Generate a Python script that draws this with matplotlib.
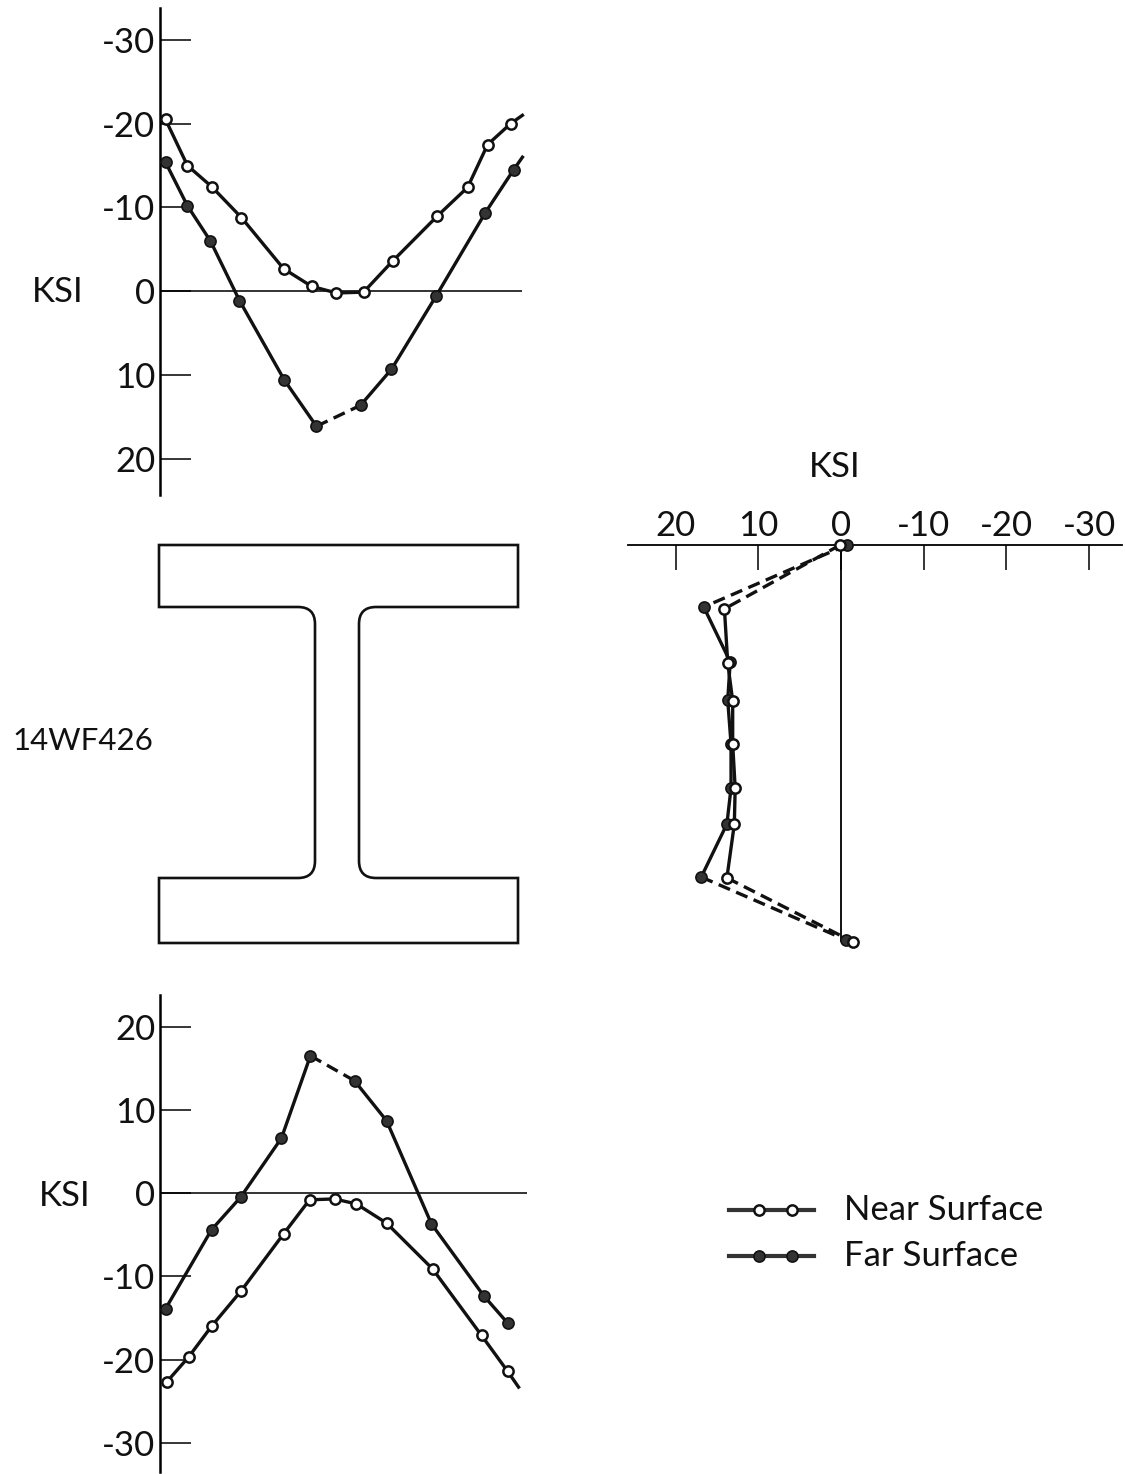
import matplotlib
matplotlib.use("Agg")
import matplotlib.pyplot as plt
from matplotlib.lines import Line2D
from matplotlib.path import Path
from matplotlib.patches import PathPatch
from matplotlib.legend_handler import HandlerBase

W, H = 1125, 1474
plt.rcParams['font.family'] = ['Lato', 'DejaVu Sans']
plt.rcParams['axes.unicode_minus'] = False

# top flange: position across flange (in), stress (ksi)
top_near_x = [0.28, 1.30, 2.42, 3.81, 5.77, 7.07, 8.23, 9.49, 10.84, 12.93, 14.33, 15.26, 16.33, 16.88]
top_near_v = [-20.5, -15.0, -12.5, -8.8, -2.7, -0.6, 0.2, 0.1, -3.6, -9.0, -12.4, -17.5, -20.0, -21.0]
top_far_x = [0.28, 1.30, 2.37, 3.72, 5.81, 7.30, 9.35, 10.79, 12.88, 15.16, 16.47, 16.88]
top_far_v = [-15.4, -10.2, -6.0, 1.1, 10.6, 16.1, 13.6, 9.3, 0.5, -9.4, -14.5, -16.0]

# bottom flange
bot_near_x = [0.33, 1.35, 2.42, 3.81, 5.77, 6.98, 8.14, 9.16, 10.56, 12.70, 14.98, 16.19, 16.70]
bot_near_v = [-22.7, -19.7, -16.0, -11.7, -4.9, -0.8, -0.7, -1.3, -3.6, -9.1, -17.1, -21.4, -23.3]
bot_far_x = [0.28, 2.42, 3.77, 5.67, 7.02, 9.07, 10.56, 12.65, 15.07, 16.19]
bot_far_v = [-13.9, -4.4, -0.5, 6.6, 16.5, 13.5, 8.7, -3.7, -12.3, -15.6]

# web: depth (in), stress (ksi)
web_near_d = [0, 3.00, 5.54, 7.32, 9.34, 11.41, 13.10, 15.63, 18.64]
web_near_v = [0.1, 14.1, 13.7, 13.1, 13.1, 12.8, 12.9, 13.8, -1.5]
web_far_d = [0, 2.91, 5.49, 7.28, 9.34, 11.41, 13.10, 15.59, 18.54]
web_far_v = [-0.7, 16.6, 13.4, 13.7, 13.3, 13.3, 13.8, 16.9, -0.6]

top_ticks = [-30, -20, -10, 0, 10, 20]
bot_ticks = [20, 10, 0, -10, -20, -30]
web_ticks = [20, 10, 0, -10, -20, -30]

LW = 2.4
DASH = (0, (3.7, 2.0))
NEAR = dict(color='#111111', lw=LW, marker='o', ms=7.4, mfc='white', mec='#111111', mew=1.8, clip_on=False)
FAR = dict(color='#111111', lw=LW, marker='o', ms=8, mfc='#333333', mec='#111111', mew=1.2, clip_on=False)
TICKFS = 25
MARK_KEYS = ('marker', 'ms', 'mfc', 'mec', 'mew')


def pax(fig, l, t, r, b):
    return fig.add_axes([l / W, 1 - b / H, (r - l) / W, (b - t) / H])


def draw(ax, x, y, style, dash=None, nomark_last=False):
    """Solid polyline with an optional dashed segment starting at index dash."""
    n = len(x)
    last = n - 1 if nomark_last else n
    plain = {k: v for k, v in style.items() if k not in MARK_KEYS}
    if dash is None:
        ax.plot(x, y, zorder=3, **plain)
    else:
        ax.plot(x[:dash + 1], y[:dash + 1], zorder=3, **plain)
        ax.plot(x[dash + 1:], y[dash + 1:], zorder=3, **plain)
        ax.plot(x[dash:dash + 2], y[dash:dash + 2], zorder=3, ls=DASH, **plain)
    ax.plot(x[:last], y[:last], ls='none', zorder=4,
            **{k: v for k, v in style.items() if k != 'lw'})


def flange_axes(fig, t, b, right, ylim, ticks):
    ax = pax(fig, 159.5, t, right, b)
    ax.set_xlim(0, (right - 159.5) / 21.5)
    ax.set_ylim(*ylim)
    for s in ('top', 'right', 'bottom'):
        ax.spines[s].set_visible(False)
    ax.spines['left'].set_linewidth(1.8)
    ax.set_xticks([])
    ax.set_yticks(ticks)
    ax.set_yticklabels([str(v) for v in ticks], fontsize=TICKFS, color='#111111')
    ax.tick_params(axis='y', direction='in', length=22, width=1.1, pad=3)
    ax.axhline(0, color='#111111', lw=1.2, zorder=1)
    ax.patch.set_alpha(0)
    return ax


fig = plt.figure(figsize=(W / 100, H / 100), dpi=100, facecolor='white')

# top panel
a1 = flange_axes(fig, 8, 495, 522, (24.3, -33.8), top_ticks)
draw(a1, top_near_x, top_near_v, NEAR, nomark_last=True)
draw(a1, top_far_x, top_far_v, FAR, dash=5, nomark_last=True)

# bottom panel
a2 = flange_axes(fig, 995, 1472, 527, (-33.5, 23.8), bot_ticks)
draw(a2, bot_near_x, bot_near_v, NEAR, nomark_last=True)
draw(a2, bot_far_x, bot_far_v, FAR, dash=4)

# web panel
a3 = pax(fig, 628, 545, 1122, 965)
a3.set_xlim(25.76, -33.98)
a3.set_ylim(19.72, 0)
for s in ('left', 'right', 'bottom'):
    a3.spines[s].set_visible(False)
a3.spines['top'].set_linewidth(1.3)
a3.set_yticks([])
a3.xaxis.tick_top()
a3.set_xticks(web_ticks)
a3.set_xticklabels([str(v) for v in web_ticks], fontsize=TICKFS, color='#111111')
a3.tick_params(axis='x', direction='in', length=18, width=1.1, pad=2.5)
a3.plot([0, 0], [0, 18.6], color='#111111', lw=1.4, zorder=1)
a3.patch.set_alpha(0)


def draw_web(ax, v, d, style):
    plain = {k: v2 for k, v2 in style.items() if k not in MARK_KEYS}
    ax.plot(v[1:-1], d[1:-1], zorder=3, **plain)
    ax.plot(v[:2], d[:2], ls=DASH, zorder=3, **plain)
    ax.plot(v[-2:], d[-2:], ls=DASH, zorder=3, **plain)
    ax.plot(v, d, ls='none', zorder=4, **{k: v2 for k, v2 in style.items() if k != 'lw'})


draw_web(a3, web_far_v, web_far_d, FAR)
draw_web(a3, web_near_v, web_near_d, NEAR)

# overlay in pixel coordinates for section outline and labels
ov = fig.add_axes([0, 0, 1, 1], zorder=-1)
ov.set_xlim(0, W)
ov.set_ylim(H, 0)
ov.axis('off')

L, R, T, B, F1, F2, W1, W2, Q = 159, 518, 545, 943, 607, 878, 315, 359, 17
verts = [(L, T), (R, T), (R, F1), (W2 + Q, F1), (W2, F1), (W2, F1 + Q), (W2, F2 - Q), (W2, F2), (W2 + Q, F2),
         (R, F2), (R, B), (L, B), (L, F2), (W1 - Q, F2), (W1, F2), (W1, F2 - Q), (W1, F1 + Q), (W1, F1),
         (W1 - Q, F1), (L, F1), (L, T)]
codes = [Path.MOVETO, Path.LINETO, Path.LINETO, Path.LINETO, Path.CURVE3, Path.CURVE3, Path.LINETO, Path.CURVE3,
         Path.CURVE3, Path.LINETO, Path.LINETO, Path.LINETO, Path.LINETO, Path.LINETO, Path.CURVE3, Path.CURVE3,
         Path.LINETO, Path.CURVE3, Path.CURVE3, Path.LINETO, Path.CLOSEPOLY]
ov.add_patch(PathPatch(Path(verts, codes), fc='none', ec='#111111', lw=1.9))

TXT = dict(color='#111111', va='center')
ov.text(58, 292, 'KSI', ha='center', fontsize=25, **TXT)
ov.text(65, 1196, 'KSI', ha='center', fontsize=25, **TXT)
ov.text(835, 467, 'KSI', ha='center', fontsize=25, **TXT)
ov.text(12, 741, '14WF426', ha='left', fontsize=22.5, **TXT)


class SampleHandler(HandlerBase):
    def __init__(self, style):
        super().__init__()
        self.style = style

    def create_artists(self, legend, orig, xd, yd, width, height, fontsize, trans):
        y = (height - yd) / 2 - 1.5
        line = Line2D([-xd, -xd + width], [y, y], color='#333333', lw=3.0, transform=trans)
        marks = Line2D([-xd + 0.35 * width, -xd + 0.74 * width], [y, y], ls='none', transform=trans,
                       **{k: v for k, v in self.style.items() if k in MARK_KEYS})
        return [line, marks]


h_near, h_far = Line2D([], []), Line2D([], [])
fig.legend([h_near, h_far], ['Near Surface', 'Far Surface'],
           handler_map={h_near: SampleHandler(NEAR), h_far: SampleHandler(FAR)},
           loc='upper left', bbox_to_anchor=(729 / W, 1 - 1194 / H), frameon=False, fontsize=25,
           handlelength=2.45, handletextpad=0.86, labelspacing=0.40, borderpad=0, borderaxespad=0,
           labelcolor='#111111')

fig.savefig('out.png', dpi=100, facecolor='white')
